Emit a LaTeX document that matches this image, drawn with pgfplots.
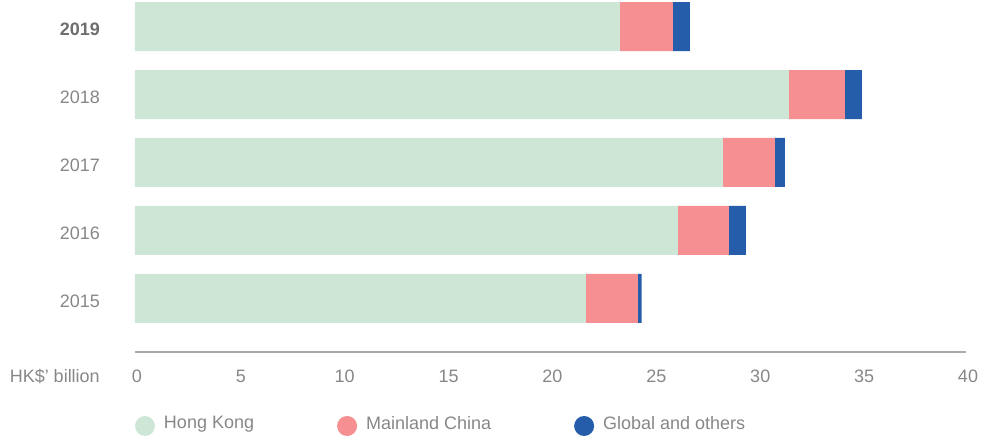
\documentclass[border=0pt]{standalone}
\usepackage{fontspec}
\setmainfont{Liberation Sans}
\usepackage{pgfplots}
\pgfplotsset{compat=1.18}
\definecolor{hk}{HTML}{CDE6D5}
\definecolor{mc}{HTML}{F58F91}
\definecolor{gl}{HTML}{265DAB}
\definecolor{txt}{HTML}{878787}
\definecolor{txtb}{HTML}{6E6E6E}
\definecolor{axgray}{HTML}{AAAAAA}
\newcommand{\fs}{\fontsize{18}{22}\selectfont}
\pgfplotsset{dotlegend/.style={legend image code/.code={\fill[##1] (10pt,-2pt) circle (10pt);}}}
\begin{document}
\fs
\begin{tikzpicture}
\begin{axis}[name=ax, scale only axis, width=831pt, height=352pt,
  xbar stacked, bar width=49pt,
  xmin=0, xmax=40, ymin=-0.787, ymax=4.39,
  xtick={0,5,...,40}, ytick={0,1,2,3,4},
  yticklabels={2015,2016,2017,2018,{\textcolor{txtb}{\textbf{2019}}}},
  axis x line*=bottom, axis y line*=left,
  x axis line style={draw=axgray, line width=1.5pt, -},
  y axis line style={draw=none},
  tick style={draw=none}, major tick length=0pt,
  /pgf/number format/assume math mode=true,
  xticklabel style={anchor=base, inner sep=0pt, yshift=-30.5pt, xshift=2pt, text=txt, font=\fs},
  yticklabel style={anchor=east, inner sep=0pt, xshift=-35pt, yshift=-2.5pt, text=txt, font=\fs},
  legend columns=3,
  legend style={draw=none, fill=none, inner sep=0pt, outer sep=0pt,
    at={(0,0)}, anchor=west, yshift=-74pt, font=\fs, text=txt,
    /tikz/every even column/.append style={column sep=83pt},
    /tikz/every odd column/.append style={column sep=9pt},
    nodes={inner sep=0pt}},
  legend cell align=left,
  clip=false,
]
\addplot[fill=hk, draw=none, dotlegend] coordinates {(21.70,0) (26.13,1) (28.30,2) (31.47,3) (23.34,4)};
\addplot[fill=mc, draw=none, dotlegend] coordinates {(2.50,0) (2.46,1) (2.50,2) (2.70,3) (2.55,4)};
\addplot[fill=gl, draw=none, dotlegend] coordinates {(0.19,0) (0.82,1) (0.48,2) (0.82,3) (0.82,4)};
\legend{Hong Kong, Mainland China, Global and others}
\end{axis}
\node[anchor=base east, inner sep=0pt, text=txt, font=\fs] at ([xshift=-35pt, yshift=-30.5pt]ax.south west) {HK\$’ billion};
\path (ax.south west) ++(-135pt,-89pt) rectangle ++(991pt,441pt);
\end{tikzpicture}
\end{document}
